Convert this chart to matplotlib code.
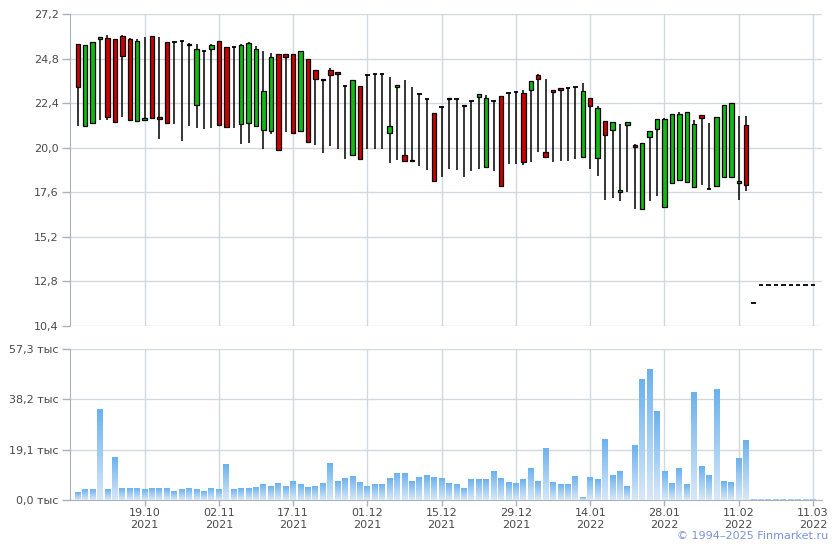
import numpy as np
import matplotlib
matplotlib.use('Agg')
import matplotlib.pyplot as plt
from matplotlib.patches import Rectangle
from matplotlib.colors import LinearSegmentedColormap

plt.rcParams['font.family'] = ['DejaVu Sans']

# дневные свечи: открытие, максимум, минимум, закрытие (91..99 - пустые дни)
opens = [25.58, 21.15, 21.32, 25.83, 25.88, 25.83, 26.01, 25.83, 21.44, 21.50,
         26.01, 21.66, 25.67, 25.67, 25.77, 25.58, 22.29, 25.23, 25.34, 25.77,
         25.40, 25.40, 21.28, 21.33, 21.17, 20.97, 20.90, 25.07, 25.07, 25.02,
         20.90, 24.80, 24.20, 23.72, 24.20, 24.10, 23.32, 19.59, 23.32, 23.91,
         23.95, 23.95, 20.78, 23.26, 19.59, 19.34, 22.89, 22.62, 21.86, 22.18,
         22.67, 22.62, 22.29, 22.51, 22.72, 18.98, 22.51, 22.78, 22.94, 22.99,
         22.94, 23.10, 23.91, 19.75, 23.10, 23.21, 23.21, 23.26, 19.52, 22.67,
         19.43, 21.43, 20.94, 17.59, 21.21, 20.13, 16.68, 20.56, 21.00, 16.78,
         18.08, 18.24, 18.13, 17.86, 21.75, 17.79, 17.92, 18.40, 18.40, 18.08,
         21.21, 11.64, 12.62, 12.62, 12.62, 12.62, 12.62, 12.62, 12.62, 12.62]
highs = [25.58, 25.52, 25.67, 25.94, 26.06, 25.83, 26.06, 25.88, 25.83, 25.94,
         26.01, 25.94, 25.67, 25.70, 25.77, 25.63, 25.58, 25.23, 25.58, 25.77,
         25.40, 25.40, 25.59, 25.67, 25.45, 25.18, 25.12, 25.07, 25.07, 25.02,
         25.18, 24.80, 24.20, 23.72, 24.29, 24.10, 23.32, 23.62, 23.32, 23.91,
         23.95, 23.95, 23.80, 23.37, 23.62, 23.26, 22.89, 22.62, 21.86, 22.18,
         22.67, 22.62, 22.29, 22.51, 22.89, 22.83, 22.51, 22.78, 22.94, 22.99,
         23.10, 23.59, 23.97, 23.70, 23.10, 23.21, 23.21, 23.26, 23.48, 22.67,
         22.24, 21.43, 21.39, 21.28, 21.37, 20.19, 20.24, 20.89, 21.54, 21.59,
         21.81, 21.91, 21.91, 21.48, 21.75, 21.32, 21.64, 22.29, 22.40, 21.70,
         21.70, 11.64, 12.62, 12.62, 12.62, 12.62, 12.62, 12.62, 12.62, 12.62]
lows = [21.15, 21.15, 21.32, 21.48, 21.51, 21.39, 21.64, 21.48, 21.44, 21.50,
        21.61, 20.47, 21.32, 21.30, 20.34, 21.19, 21.05, 20.99, 21.05, 21.23,
        21.12, 21.05, 20.18, 20.25, 21.17, 19.93, 20.74, 19.87, 20.85, 20.79,
        20.90, 20.31, 20.14, 19.71, 20.07, 19.93, 19.38, 19.59, 19.38, 19.92,
        19.95, 19.95, 19.20, 19.34, 19.21, 19.30, 19.03, 18.78, 18.19, 18.44,
        18.84, 18.78, 18.44, 18.76, 18.87, 18.98, 18.73, 17.95, 19.11, 19.14,
        19.09, 19.21, 19.75, 19.48, 19.21, 19.30, 19.30, 19.38, 19.52, 18.84,
        18.46, 17.16, 17.27, 17.11, 17.63, 16.68, 16.68, 17.11, 17.41, 16.78,
        18.08, 18.24, 18.13, 17.86, 17.97, 17.79, 17.92, 18.35, 18.40, 17.16,
        17.65, 11.64, 12.62, 12.62, 12.62, 12.62, 12.62, 12.62, 12.62, 12.62]
closes = [23.28, 25.52, 25.67, 25.94, 21.66, 21.39, 24.96, 21.51, 25.77, 21.62,
          21.61, 21.53, 21.32, 25.67, 25.77, 25.52, 25.34, 25.23, 25.52, 21.23,
          21.12, 25.40, 25.52, 25.61, 25.29, 23.07, 24.91, 19.87, 24.91, 20.79,
          25.18, 20.31, 23.72, 23.64, 23.93, 23.99, 23.32, 23.62, 19.41, 23.91,
          23.95, 23.95, 21.16, 23.37, 19.27, 19.30, 22.89, 22.62, 18.19, 22.18,
          22.62, 22.62, 22.24, 22.51, 22.89, 22.67, 22.51, 17.95, 22.94, 22.99,
          19.21, 23.59, 23.70, 19.48, 22.99, 23.10, 23.21, 23.26, 23.05, 22.24,
          22.13, 20.67, 21.39, 17.72, 21.37, 20.02, 20.24, 20.89, 21.54, 21.54,
          21.81, 21.81, 21.91, 21.27, 21.59, 17.79, 21.64, 22.29, 22.40, 18.21,
          17.97, 11.64, 12.62, 12.62, 12.62, 12.62, 12.62, 12.62, 12.62, 12.62]

# объём торгов, тыс
volumes = [3.0, 3.8, 3.8, 34.4, 3.8, 16.2, 4.2, 4.5, 4.2, 3.8,
           4.5, 4.2, 4.2, 3.4, 3.8, 4.5, 3.8, 3.4, 4.5, 3.8,
           13.6, 3.8, 4.2, 4.5, 4.9, 6.0, 5.3, 6.4, 5.3, 7.2,
           5.7, 4.9, 5.3, 6.4, 14.0, 7.2, 8.3, 9.1, 6.8, 5.3,
           5.7, 6.0, 8.3, 10.2, 10.2, 7.2, 8.7, 9.4, 8.7, 8.3,
           6.4, 6.0, 4.5, 7.9, 7.9, 7.9, 11.0, 8.3, 6.8, 6.4,
           7.6, 12.1, 7.2, 19.6, 6.8, 6.0, 5.7, 9.1, 0.8, 8.7,
           7.9, 23.0, 9.4, 11.0, 5.3, 20.8, 45.7, 49.5, 33.6, 11.0,
           6.4, 12.1, 6.0, 40.8, 12.8, 9.4, 41.9, 7.2, 6.8, 15.9,
           22.7, 0.35, 0.35, 0.35, 0.35, 0.35, 0.35, 0.35, 0.35, 0.35]

# подписи дат (каждые 10 торговых дней)
date_pos = [9, 19, 29, 39, 49, 59, 69, 79, 89, 99]
date_labels = ['19.10\n2021', '02.11\n2021', '17.11\n2021', '01.12\n2021', '15.12\n2021',
               '29.12\n2021', '14.01\n2022', '28.01\n2022', '11.02\n2022', '11.03\n2022']

price_ticks = [10.4, 12.8, 15.2, 17.6, 20.0, 22.4, 24.8, 27.2]
vol_ticks = [0.0, 19.1, 38.2, 57.3]

grid_c = '#d3d8dd'
spine_c = '#aab2bc'
text_c = '#4a4a4a'

fig = plt.figure(figsize=(8.4, 5.5), dpi=100)
ax1 = fig.add_axes([0.0833, 0.4073, 0.8952, 0.5673])
ax2 = fig.add_axes([0.0833, 0.0909, 0.8952, 0.2745])

xmin, xmax = -1.05, 100.2

# свечи
for i in range(len(opens)):
    o, h, l, c = opens[i], highs[i], lows[i], closes[i]
    if h > l:
        ax1.plot([i, i], [l, h], color='black', lw=1.1, zorder=3, solid_capstyle='butt')
    if o == c:
        ax1.plot([i - 0.3, i + 0.3], [o, o], color='black', lw=1.3, zorder=4, solid_capstyle='butt')
    else:
        col = '#11bb11' if c > o else '#cc0000'
        ax1.add_patch(Rectangle((i - 0.3, min(o, c)), 0.6, abs(c - o),
                                facecolor=col, edgecolor='black', lw=0.9, zorder=4))

ax1.set_xlim(xmin, xmax)
ax1.set_ylim(10.4, 27.2)
ax1.set_yticks(price_ticks)
ax1.set_yticklabels([('%.1f' % t).replace('.', ',') for t in price_ticks])
ax1.set_xticks(date_pos)
ax1.tick_params(axis='x', length=0, labelbottom=False)
ax1.tick_params(axis='y', length=6, width=1, color=spine_c, pad=2, labelsize=8, labelcolor=text_c)
ax1.grid(True, color=grid_c, lw=1)
ax1.set_axisbelow(True)
for s in ['top', 'right', 'bottom']:
    ax1.spines[s].set_visible(False)
ax1.spines['left'].set_color(spine_c)

# объём - столбики с градиентом
cmap = LinearSegmentedColormap.from_list('vol', ['#d8e8f8', '#6cb2ee'])
grad = np.linspace(0, 1, 64).reshape(-1, 1)
for i, v in enumerate(volumes):
    ax2.imshow(grad, extent=[i - 0.4, i + 0.4, 0, v], origin='lower',
               cmap=cmap, aspect='auto', zorder=3, interpolation='bilinear')

ax2.set_xlim(xmin, xmax)
ax2.set_ylim(0, 57.3)
ax2.set_yticks(vol_ticks)
ax2.set_yticklabels([('%.1f' % t).replace('.', ',') + ' тыс' for t in vol_ticks])
ax2.set_xticks(date_pos)
ax2.set_xticklabels(date_labels)
ax2.tick_params(axis='y', length=6, width=1, color=spine_c, pad=2, labelsize=8, labelcolor=text_c)
ax2.tick_params(axis='x', length=4, width=1, color=spine_c, pad=2, labelsize=8, labelcolor=text_c)
ax2.grid(True, color=grid_c, lw=1)
ax2.set_axisbelow(True)
for s in ['top', 'right']:
    ax2.spines[s].set_visible(False)
ax2.spines['left'].set_color(spine_c)
ax2.spines['bottom'].set_color(spine_c)

fig.text(0.986, 0.016, '© 1994–2025 Finmarket.ru', ha='right', va='bottom',
         fontsize=8, color='#7b93dc')

plt.savefig('out.png', dpi=100)
